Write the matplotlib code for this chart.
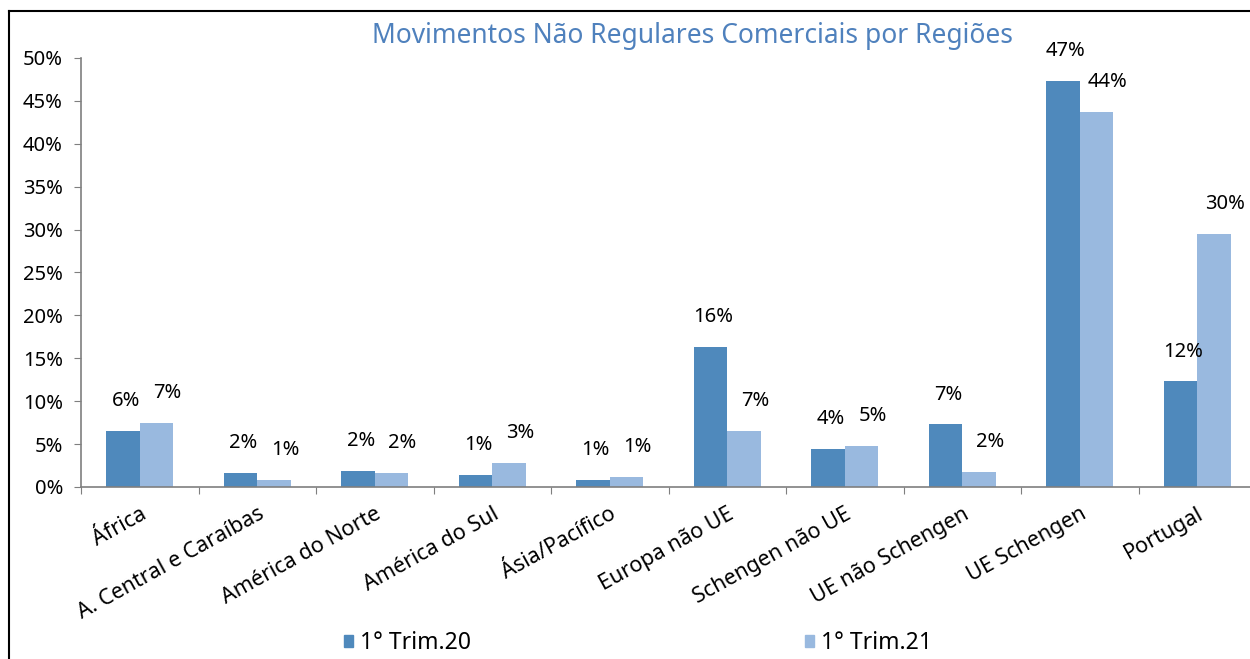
import matplotlib
matplotlib.use("Agg")
import matplotlib.pyplot as plt
import numpy as np
from matplotlib.patches import Patch
from matplotlib.lines import Line2D

categories = ["África", "A. Central e Caraíbas", "América do Norte", "América do Sul",
              "Ásia/Pacífico", "Europa não UE", "Schengen não UE", "UE não Schengen",
              "UE Schengen", "Portugal"]
trim20 = [6.5, 1.6, 1.9, 1.4, 0.8, 16.3, 4.4, 7.3, 47.3, 12.3]
trim21 = [7.5, 0.8, 1.6, 2.8, 1.2, 6.5, 4.8, 1.8, 43.7, 29.5]
labels20 = ["6%", "2%", "2%", "1%", "1%", "16%", "4%", "7%", "47%", "12%"]
labels21 = ["7%", "1%", "2%", "3%", "1%", "7%", "5%", "2%", "44%", "30%"]
series_names = ["1° Trim.20", "1° Trim.21"]
yticks = [0, 5, 10, 15, 20, 25, 30, 35, 40, 45, 50]

plt.rcParams['font.family'] = ['Noto Sans', 'DejaVu Sans']
dark = "#4F89BC"
light = "#99B9DF"
axis_gray = "#7F7F7F"

fig = plt.figure(figsize=(12.5, 6.59), dpi=100)
ax = fig.add_axes([81/1250, 1-487/659, 1175/1250, (487-58)/659])

x = np.arange(len(categories))
w = 0.285
ax.bar(x - w/2, trim20, width=w, color=dark, label=series_names[0])
ax.bar(x + w/2, trim21, width=w, color=light, label=series_names[1])

for xi, v, t in zip(x - w/2, trim20, labels20):
    ax.annotate(t, (xi, v), xytext=(2, 21.5), textcoords="offset points",
                ha="center", va="center", fontsize=14.5, color="black")
for xi, v, t in zip(x + w/2, trim21, labels21):
    ax.annotate(t, (xi, v), xytext=(8, 21.5), textcoords="offset points",
                ha="center", va="center", fontsize=14.5, color="black")

ax.set_xlim(-0.5, len(categories) - 0.5)
ax.set_ylim(0, 50)
ax.set_yticks(yticks)
ax.set_yticklabels([f"{t}%" for t in yticks], fontsize=14.5)
ax.tick_params(axis="y", direction="out", length=5, color=axis_gray, pad=8)

ax.set_xticks(np.arange(len(categories) + 1) - 0.5, minor=False)
ax.set_xticklabels([])
ax.tick_params(axis="x", direction="out", length=5, color=axis_gray)
ax.set_xticks(x, minor=True)
ax.set_xticklabels(categories, minor=True, rotation=29, ha="right",
                   rotation_mode="anchor", fontsize=15.5)
ax.tick_params(axis="x", which="minor", length=0, pad=12)

for s in ["top", "right"]:
    ax.spines[s].set_visible(False)
for s in ["left", "bottom"]:
    ax.spines[s].set_color(axis_gray)
    ax.spines[s].set_linewidth(1.2)

fig.text(693/1250, 1-36/659, "Movimentos Não Regulares Comerciais por Regiões",
         ha="center", va="center", fontsize=19, color="#4F81BD")

# figure frame (left and top edges visible)
fig.add_artist(Line2D([9/1250, 9/1250], [0, 1-11/659], transform=fig.transFigure,
                      color="black", lw=1.5))
fig.add_artist(Line2D([9/1250, 1], [1-11/659, 1-11/659], transform=fig.transFigure,
                      color="black", lw=1.5))

handles = [Patch(color=dark), Patch(color=light)]
fig.legend(handles, series_names, loc="center", bbox_to_anchor=(638/1250, 1-643/659),
           ncol=2, frameon=False, fontsize=16.5, handlelength=0.4, handleheight=0.45,
           handletextpad=0.3, columnspacing=14.6, borderpad=0, borderaxespad=0)

fig.savefig("out.png", dpi=100)
